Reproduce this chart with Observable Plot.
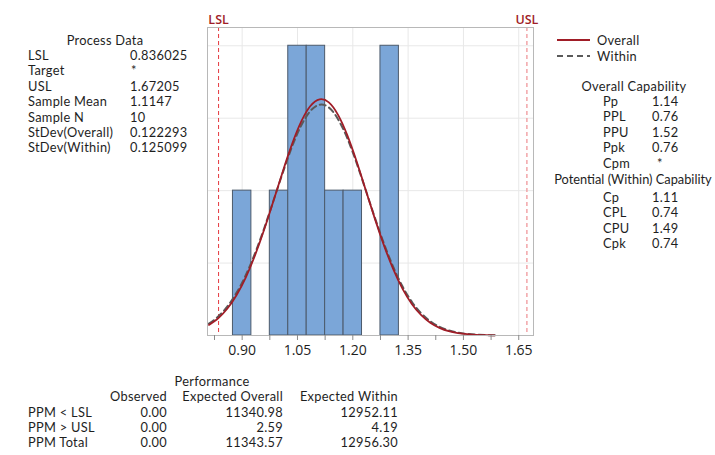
<!DOCTYPE html>
<html>
<head>
<meta charset="utf-8">
<script src="https://cdn.jsdelivr.net/npm/d3@7"></script>
<script src="https://cdn.jsdelivr.net/npm/@observablehq/plot@0.6"></script>
<style>
  html, body { margin: 0; padding: 0; background: #fff; }
  #wrap { position: relative; width: 715px; height: 455px; overflow: hidden; font-family: Lato, "Open Sans", sans-serif; font-size: 12.8px; letter-spacing: 0.3px; color: #1e1e1e; }
  #plot { position: absolute; left: 0; top: 0; letter-spacing: 0; }
  .t { position: absolute; line-height: 14px; white-space: nowrap; }
</style>
</head>
<body>
<div id="wrap"><div id="plot"></div></div>
<script>
// ---------- data ----------
const binStart = [0.875, 0.975, 1.025, 1.075, 1.125, 1.175, 1.275];
const binEnd   = [0.925, 1.025, 1.075, 1.125, 1.175, 1.225, 1.325];
const binCount = [1, 1, 2, 2, 1, 1, 2];

const LSL = 0.836025;
const USL = 1.67205;

// fitted curves (frequency scale)
const curveX   = [0.81, 0.835, 0.86, 0.885, 0.91, 0.935, 0.96, 0.985, 1.01, 1.035, 1.06, 1.085, 1.11, 1.135, 1.16, 1.185,
                  1.21, 1.235, 1.26, 1.285, 1.31, 1.335, 1.36, 1.385, 1.41, 1.435, 1.46, 1.485, 1.51, 1.535, 1.56, 1.585];
const overallY = [0.073, 0.119, 0.186, 0.280, 0.402, 0.554, 0.733, 0.930, 1.131, 1.319, 1.476, 1.584, 1.630, 1.609, 1.523, 1.383,
                  1.204, 1.005, 0.805, 0.619, 0.456, 0.322, 0.218, 0.142, 0.088, 0.053, 0.030, 0.017, 0.009, 0.004, 0.002, 0.001];
const withinY  = [0.082, 0.131, 0.201, 0.296, 0.418, 0.568, 0.742, 0.932, 1.123, 1.302, 1.449, 1.550, 1.593, 1.574, 1.493, 1.362,
                  1.193, 1.004, 0.812, 0.631, 0.471, 0.338, 0.233, 0.155, 0.098, 0.060, 0.035, 0.020, 0.011, 0.006, 0.003, 0.001];

const xTicks = [0.90, 1.05, 1.20, 1.35, 1.50, 1.65];
const xMinor = [0.825, 0.975, 1.125, 1.275, 1.425, 1.575];
const yGrid  = [0.5, 1, 1.5, 2];

const processLabels = ["LSL", "Target", "USL", "Sample Mean", "Sample N", "StDev(Overall)", "StDev(Within)"];
const processValues = ["0.836025", "*", "1.67205", "1.1147", "10", "0.122293", "0.125099"];

const overallCapLabels = ["Pp", "PPL", "PPU", "Ppk", "Cpm"];
const overallCapValues = ["1.14", "0.76", "1.52", "0.76", "*"];
const withinCapLabels  = ["Cp", "CPL", "CPU", "Cpk"];
const withinCapValues  = ["1.11", "0.74", "1.49", "0.74"];

const perfRows       = ["PPM < LSL", "PPM > USL", "PPM Total"];
const perfHeaders    = ["Observed", "Expected Overall", "Expected Within"];
const perfObserved   = ["0.00", "0.00", "0.00"];
const perfExpOverall = ["11340.98", "2.59", "11343.57"];
const perfExpWithin  = ["12952.11", "4.19", "12956.30"];

// ---------- tables ----------
const bins = binStart.map((s, i) => ({x1: s, x2: binEnd[i], count: binCount[i]}));
const overall = curveX.map((x, i) => ({x, y: overallY[i]}));
const within = curveX.map((x, i) => ({x, y: withinY[i]}));

// ---------- plot ----------
const plot = Plot.plot({
  width: 715,
  height: 455,
  marginLeft: 207,
  marginRight: 182,
  marginTop: 27,
  marginBottom: 120,
  style: {fontFamily: "'Open Sans', 'Noto Sans', sans-serif", color: "#1e1e1e", background: "transparent", letterSpacing: "0px"},
  x: {domain: [0.806, 1.690], label: null, axis: null},
  y: {domain: [0, 2.126], label: null, axis: null},
  marks: [
    Plot.gridX(xTicks, {stroke: "#e8e8e8", strokeOpacity: 1}),
    Plot.gridY(yGrid, {stroke: "#e8e8e8", strokeOpacity: 1}),
    Plot.rectY(bins, {x1: "x1", x2: "x2", y: "count", fill: "#7ba6d8", stroke: "#4c5a6b", strokeWidth: 1}),
    Plot.ruleX([LSL], {stroke: "#e5393f", strokeWidth: 1, strokeDasharray: "4,3"}),
    Plot.ruleX([USL], {stroke: "#f2a5a8", strokeWidth: 1.5, strokeDasharray: "4,3"}),
    Plot.line(within, {x: "x", y: "y", curve: "natural", stroke: "#5a5a5a", strokeWidth: 2, strokeDasharray: "6,4"}),
    Plot.line(overall, {x: "x", y: "y", curve: "natural", stroke: "#a01d27", strokeWidth: 1.8}),
    Plot.frame({stroke: "#b8b8b8"}),
    Plot.axisX(xTicks, {tickSize: 5, tickPadding: 5, fontSize: 14, fontWeight: 500, stroke: "#8a8a8a", fill: "#1e1e1e", tickFormat: d3.format(".2f")}),
    Plot.axisX(xMinor, {tickSize: 5, stroke: "#8a8a8a", tickFormat: () => ""}),
    Plot.text(["LSL"], {x: () => LSL, frameAnchor: "top", lineAnchor: "bottom", dy: -4, fill: "#a01d27", fontSize: 12.5, fontWeight: 600}),
    Plot.text(["USL"], {x: () => USL, frameAnchor: "top", lineAnchor: "bottom", dy: -4, fill: "#a01d27", fontSize: 12.5, fontWeight: 600})
  ]
});
document.getElementById("plot").appendChild(plot);

// ---------- text blocks ----------
const wrap = document.getElementById("wrap");
function place(text, x, y, align) {
  const d = document.createElement("div");
  d.className = "t";
  d.textContent = text;
  d.style.top = (y - 7) + "px";
  if (align === "right") d.style.right = (715 - x) + "px";
  else if (align === "center") { d.style.left = x + "px"; d.style.transform = "translateX(-50%)"; }
  else d.style.left = x + "px";
  wrap.appendChild(d);
  return d;
}
const ROW = 15.4;

// Process data
place("Process Data", 105, 40, "center");
processLabels.forEach((l, i) => {
  place(l, 28, 55 + i * ROW, "left");
  place(processValues[i], processValues[i] === "*" ? 131 : 130, 55 + i * ROW, "left");
});

// Legend
function swatch(y, dashed, color) {
  const ns = "http://www.w3.org/2000/svg";
  const s = document.createElementNS(ns, "svg");
  s.setAttribute("width", 36); s.setAttribute("height", 6);
  s.style.position = "absolute"; s.style.left = "556px"; s.style.top = (y - 3) + "px";
  const ln = document.createElementNS(ns, "line");
  ln.setAttribute("x1", 1); ln.setAttribute("x2", 34); ln.setAttribute("y1", 3); ln.setAttribute("y2", 3);
  ln.setAttribute("stroke", color); ln.setAttribute("stroke-width", dashed ? 2 : 1.8);
  if (dashed) ln.setAttribute("stroke-dasharray", "6,4");
  s.appendChild(ln);
  wrap.appendChild(s);
}
swatch(40, false, "#a01d27");
swatch(55.5, true, "#5a5a5a");
place("Overall", 597, 40, "left");
place("Within", 597, 55.5, "left");

// Overall capability
place("Overall Capability", 634, 86, "center");
overallCapLabels.forEach((l, i) => {
  place(l, 603, 101 + i * ROW, "left");
  place(overallCapValues[i], overallCapValues[i] === "*" ? 657 : 652, 101 + i * ROW, "left");
});
// Potential (within) capability
const potHead = place("Potential (Within) Capability", 633, 179, "center");
potHead.style.letterSpacing = "0px";
withinCapLabels.forEach((l, i) => {
  place(l, 603, 197 + i * ROW, "left");
  place(withinCapValues[i], 652, 197 + i * ROW, "left");
});

// Performance
place("Performance", 212, 381, "center");
const perfRight = [167, 283, 398];
perfHeaders.forEach((h, j) => place(h, perfRight[j], 396, "right"));
perfRows.forEach((r, i) => {
  const y = 411.5 + i * ROW;
  place(r, 28, y, "left");
  place(perfObserved[i], perfRight[0], y, "right");
  place(perfExpOverall[i], perfRight[1], y, "right");
  place(perfExpWithin[i], perfRight[2], y, "right");
});
</script>
</body>
</html>
